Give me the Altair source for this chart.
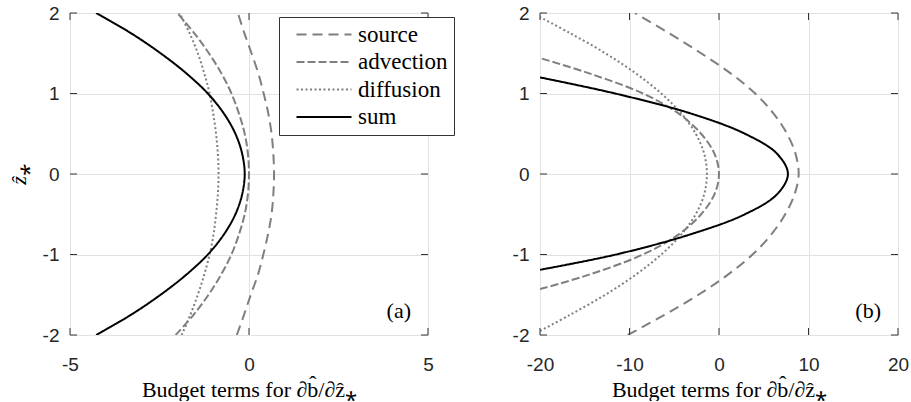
import altair as alt
import pandas as pd

TERMS = ["source", "advection", "diffusion", "sum"]
COLORS = ["#7f7f7f", "#7f7f7f", "#7f7f7f", "#000000"]
DASHES = [[10, 6], [8, 3], [2, 2.5], [1, 0]]
WIDTHS = [2, 2, 2, 2.6]

# ---- panel (a) ----
zA = [-2, -1.75, -1.5, -1.25, -1, -0.75, -0.5, -0.25, 0, 0.25, 0.5, 0.75, 1, 1.25, 1.5, 1.75, 2]
sourceA = [-0.34, -0.14, 0.05, 0.25, 0.40, 0.53, 0.63, 0.68, 0.70, 0.68, 0.63, 0.54, 0.41, 0.26, 0.07, -0.13, -0.31]
advectionA = [-2.05, -1.55, -1.13, -0.78, -0.49, -0.28, -0.12, -0.03, 0.0, -0.03, -0.12, -0.28, -0.49, -0.77, -1.12, -1.53, -2.0]
diffusionA = [-1.88, -1.64, -1.43, -1.25, -1.10, -0.99, -0.92, -0.87, -0.85, -0.87, -0.92, -1.0, -1.1, -1.25, -1.43, -1.66, -1.94]
sumA = [-4.27, -3.30, -2.47, -1.75, -1.15, -0.70, -0.38, -0.19, -0.12, -0.19, -0.38, -0.70, -1.15, -1.75, -2.47, -3.30, -4.27]

# ---- panel (b) ----
zB_source = [-2, -1.75, -1.5, -1.25, -1, -0.75, -0.5, -0.25, 0, 0.25, 0.5, 0.75, 1, 1.25, 1.5, 1.75, 2]
sourceB = [-10.2, -6.1, -2.3, 1.0, 3.75, 5.85, 7.4, 8.45, 8.9, 8.55, 7.6, 6.1, 4.05, 1.3, -2.0, -5.6, -9.4]
zB_adv = [-1.43, -1.25, -1, -0.75, -0.5, -0.25, 0, 0.25, 0.5, 0.75, 1, 1.25, 1.44]
advectionB = [-20, -14.5, -8.5, -4.5, -2.0, -0.5, 0, -0.5, -2.0, -4.5, -8.5, -14.5, -20]
zB_diff = [-1.95, -1.75, -1.5, -1.25, -1, -0.75, -0.5, -0.25, 0, 0.25, 0.5, 0.75, 1, 1.25, 1.5, 1.75, 1.95]
diffusionB = [-20, -16.65, -12.7, -9.3, -6.45, -4.2, -2.6, -1.65, -1.35, -1.65, -2.6, -4.2, -6.45, -9.3, -12.7, -16.65, -20]
zB_sum = [-1.19, -1, -0.75, -0.5, -0.25, 0, 0.25, 0.5, 0.75, 1, 1.2]
sumB = [-20, -11.5, -3.2, 2.9, 6.5, 7.7, 6.5, 2.9, -3.1, -11.6, -20]

XTICKS_A = [-5, 0, 5]
XTICKS_B = [-20, -10, 0, 10, 20]
YTICKS = [-2, -1, 0, 1, 2]

W, H = 358, 322
TICK = 7
FRAME = "#333333"
SANS = "Liberation Sans"
SERIF = "Liberation Serif"


def frame_df(zlist, vals, term):
    return pd.DataFrame({"z": zlist, "b": vals, "term": term, "i": list(range(len(zlist)))})


dfA = pd.concat([
    frame_df(zA, sourceA, "source"),
    frame_df(zA, advectionA, "advection"),
    frame_df(zA, diffusionA, "diffusion"),
    frame_df(zA, sumA, "sum"),
])
dfB = pd.concat([
    frame_df(zB_source, sourceB, "source"),
    frame_df(zB_adv, advectionB, "advection"),
    frame_df(zB_diff, diffusionB, "diffusion"),
    frame_df(zB_sum, sumB, "sum"),
])

XTITLE = "Budget terms for \u2202b\u0302/\u2202\u1e91\u204e"
PLAIN = "'' + datum.value"


def panel(df, xdom, xticks, label, with_legend, with_ytitle):
    if with_legend:
        leg = alt.Legend(
            orient="none", legendX=209, legendY=4, title=None,
            symbolType="M0,0H10", symbolSize=121, labelOffset=50,
            labelFont=SERIF, labelFontSize=23, labelColor="#000000",
            padding=6, rowPadding=3.5, strokeColor=FRAME, fillColor="#ffffff",
            symbolFillColor="transparent",
        )
    else:
        leg = None
    xaxis = alt.Axis(values=xticks, grid=True, gridColor="#e2e2e2", ticks=False, tickSize=0,
                     domain=False, labelFont=SANS, labelFontSize=19, labelColor="#262626",
                     labelPadding=20, title=XTITLE, titleFont=SERIF, titleFontSize=22,
                     titleFontWeight="normal", titleColor="#000000", titlePadding=5,
                     labelFlush=False, labelExpr=PLAIN)
    yaxis = alt.Axis(values=YTICKS, grid=True, gridColor="#e2e2e2", ticks=False, tickSize=0,
                     domain=False, labelFont=SANS, labelFontSize=19, labelColor="#262626",
                     labelPadding=11, labelFlush=False, labelExpr=PLAIN,
                     title="\u1e91\u204e" if with_ytitle else None,
                     titleFont=SERIF, titleFontSize=22, titleFontStyle="italic",
                     titleFontWeight="normal", titleColor="#000000", titlePadding=12)
    xs = alt.Scale(domain=xdom, nice=False, zero=False)
    ys = alt.Scale(domain=[-2, 2], nice=False, zero=False)

    lines = alt.Chart(df).mark_line(interpolate="catmull-rom", clip=True).encode(
        x=alt.X("b:Q", scale=xs, axis=xaxis),
        y=alt.Y("z:Q", scale=ys, axis=yaxis),
        color=alt.Color("term:N", scale=alt.Scale(domain=TERMS, range=COLORS), legend=leg),
        strokeDash=alt.StrokeDash("term:N", scale=alt.Scale(domain=TERMS, range=DASHES), legend=leg),
        strokeWidth=alt.StrokeWidth("term:N", scale=alt.Scale(domain=TERMS, range=WIDTHS), legend=leg),
        order=alt.Order("i:Q"),
    )

    xt = pd.DataFrame({"b": xticks})
    yt = pd.DataFrame({"z": YTICKS})
    tick_style = dict(color=FRAME, strokeWidth=1)
    bt = alt.Chart(xt).mark_rule(**tick_style).encode(
        x=alt.X("b:Q", scale=xs, axis=xaxis), y=alt.value(H - TICK), y2=alt.value(H))
    tt = alt.Chart(xt).mark_rule(**tick_style).encode(
        x=alt.X("b:Q", scale=xs, axis=xaxis), y=alt.value(0), y2=alt.value(TICK))
    lt = alt.Chart(yt).mark_rule(**tick_style).encode(
        y=alt.Y("z:Q", scale=ys, axis=yaxis), x=alt.value(0), x2=alt.value(TICK))
    rt = alt.Chart(yt).mark_rule(**tick_style).encode(
        y=alt.Y("z:Q", scale=ys, axis=yaxis), x=alt.value(W - TICK), x2=alt.value(W))

    lab = alt.Chart(pd.DataFrame({"label": [label]})).mark_text(
        font=SERIF, fontSize=22, align="right", baseline="alphabetic", color="#000000"
    ).encode(text="label:N", x=alt.value(W - 17), y=alt.value(H - 17))

    return alt.layer(lines, bt, tt, lt, rt, lab).properties(width=W, height=H)


left = panel(dfA, [-5, 5], XTICKS_A, "(a)", True, True)
right = panel(dfB, [-20, 20], XTICKS_B, "(b)", False, False)

chart = alt.hconcat(left, right, spacing=112, bounds="flush").resolve_scale(
    color="independent", strokeDash="independent", strokeWidth="independent"
).resolve_legend(color="independent", strokeDash="independent", strokeWidth="independent").properties(
    padding={"left": 6, "top": 3, "right": 0, "bottom": 0}
).configure_view(stroke=FRAME, strokeWidth=1).configure_legend(
    labelFont=SERIF, labelFontSize=23
).configure(background="#ffffff", font=SERIF)

chart.save("out.html", embed_options={"renderer": "svg", "actions": False})
